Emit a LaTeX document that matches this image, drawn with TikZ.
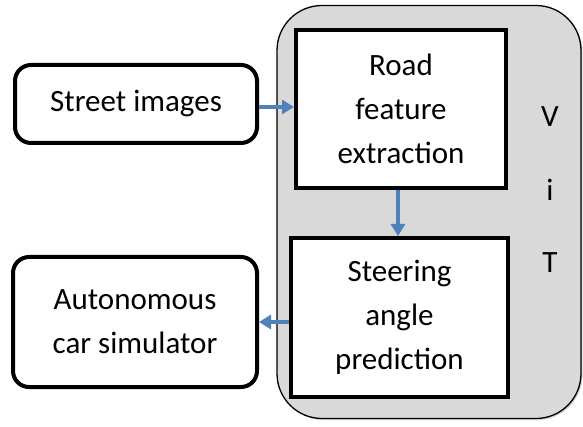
\documentclass[tikz,border=0pt]{standalone}
\usepackage{fontspec}
\setmainfont{Carlito}
\usetikzlibrary{arrows.meta,positioning,shadows}
\definecolor{vitgray}{HTML}{D9D9D9}
\definecolor{flowblue}{HTML}{4F81BD}

\begin{document}
\begin{tikzpicture}[x=1pt,y=-1pt,
 block/.style={draw,line width=4pt,fill=white,align=center,inner sep=0pt,font=\fontsize{31}{44}\selectfont},
 ioblock/.style={block,rounded corners=16pt},
 flow/.style={draw=flowblue,line width=3.5pt,-{Triangle[length=12pt,width=14pt]}}]
\useasboundingbox (0,0) rectangle (583,427);
% ViT container
\node[draw,line width=1.3pt,fill=vitgray,rounded corners=45pt,minimum width=304pt,minimum height=413pt,
 drop shadow={opacity=0.35,shadow xshift=1.5pt,shadow yshift=-1.5pt}] (vit) at (429,212) {};
\node[block,minimum width=210pt,minimum height=158pt] (road) at (401,109) {Road\\feature\\extraction};
\node[block,minimum width=217pt,minimum height=159pt] (steer) at (399.5,317.5) {Steering\\angle\\prediction};
\node[font=\fontsize{31}{36}\selectfont] (v) at (550,117) {V};
\node[font=\fontsize{31}{36}\selectfont] (i) at (550,190) {i};
\node[font=\fontsize{31}{36}\selectfont] (t) at (550,263) {T};
% inputs and outputs
\node[ioblock,minimum width=242pt,minimum height=78pt] (street) at (136,104) {Street images};
\node[ioblock,minimum width=244pt,minimum height=130pt] (sim) at (135,322) {Autonomous\\car simulator};
% arrows
\draw[flow] (street.east |- 0,107) -- (road.west |- 0,107);
\draw[flow] (road.south -| 398,0) -- (steer.north -| 398,0);
\draw[flow] (steer.west |- 0,322) -- (sim.east |- 0,322);
\end{tikzpicture}
\end{document}
